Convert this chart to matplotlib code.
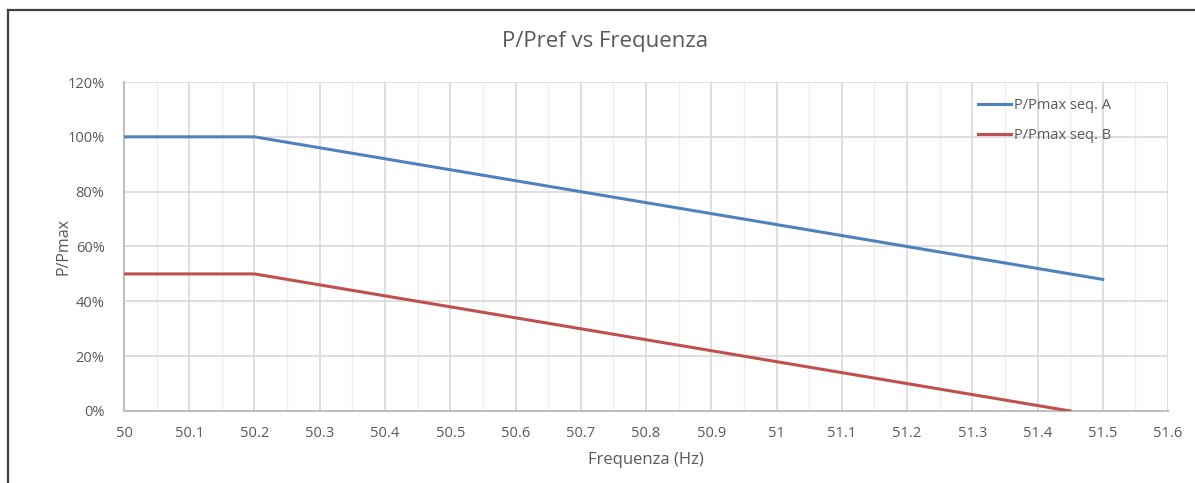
import matplotlib
matplotlib.use("Agg")
import matplotlib.pyplot as plt
from matplotlib.lines import Line2D
from matplotlib.ticker import MultipleLocator, FuncFormatter

# ---------------- DATA ---------------- #

freq_a = [50.0, 50.2, 51.5]
pmax_a = [1.00, 1.00, 0.48]

freq_b = [50.0, 50.2, 51.45]
pmax_b = [0.50, 0.50, 0.00]

label_a = "P/Pmax seq. A"
label_b = "P/Pmax seq. B"

# ---------------- STYLE ---------------- #

plt.rcParams["font.family"] = ["Open Sans", "DejaVu Sans"]
text_color = "#595959"
grid_major = "#d9d9d9"
grid_minor = "#eeeeee"

fig = plt.figure(figsize=(11.95, 4.83), dpi=100)
ax = fig.add_axes([124 / 1195, 1 - 411 / 483, (1168 - 124) / 1195, (411 - 82) / 483])

# chart frame (top and left edges visible in the screenshot)
fig.add_artist(Line2D([8 / 1195, 1.0], [1 - 10 / 483, 1 - 10 / 483],
                      transform=fig.transFigure, color="#404040", lw=1.6))
fig.add_artist(Line2D([8 / 1195, 8 / 1195], [0.0, 1 - 10 / 483],
                      transform=fig.transFigure, color="#404040", lw=1.6))

ax.plot(freq_a, pmax_a, color="#4f81bd", lw=2.2, label=label_a, zorder=3)
ax.plot(freq_b, pmax_b, color="#c0504d", lw=2.2, label=label_b, zorder=3)

ax.set_xlim(50, 51.6)
ax.set_ylim(0, 1.2)

ax.xaxis.set_major_locator(MultipleLocator(0.1))
ax.xaxis.set_minor_locator(MultipleLocator(0.05))
ax.yaxis.set_major_locator(MultipleLocator(0.2))

ax.xaxis.set_major_formatter(FuncFormatter(lambda v, p: f"{v:.1f}".rstrip("0").rstrip(".")))
ax.yaxis.set_major_formatter(FuncFormatter(lambda v, p: f"{v * 100:.0f}%"))

ax.grid(which="major", color=grid_major, lw=1.2, zorder=0)
ax.grid(which="minor", axis="x", color=grid_minor, lw=1.0, zorder=0)

for side in ["top", "right"]:
    ax.spines[side].set_visible(False)
for side in ["left", "bottom"]:
    ax.spines[side].set_color("#bfbfbf")
    ax.spines[side].set_linewidth(1.5)

ax.tick_params(which="both", length=0, colors=text_color, labelsize=10.5)
ax.tick_params(axis="x", pad=11)
ax.tick_params(axis="y", pad=14)

fig.text(605 / 1195, 1 - 42 / 483, "P/Pref vs Frequenza", color=text_color,
         fontsize=16, ha="center", va="center")
ax.set_xlabel("Frequenza (Hz)", color=text_color, fontsize=12, labelpad=8)
ax.set_ylabel("P/Pmax", color=text_color, fontsize=11.5, labelpad=-3)

leg = ax.legend(loc="upper left", bbox_to_anchor=(0.805, 0.99), frameon=False,
                fontsize=10.5, handlelength=2.3, handletextpad=0.2, labelspacing=1.0)
for t in leg.get_texts():
    t.set_color(text_color)

fig.savefig("out.png", dpi=100)
